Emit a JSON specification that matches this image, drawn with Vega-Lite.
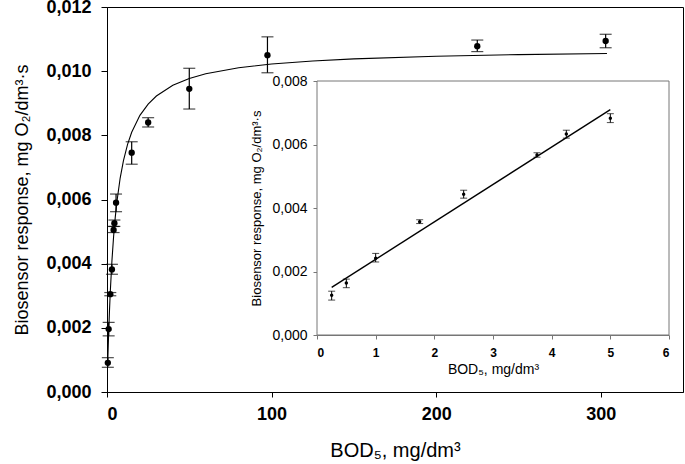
{
  "$schema": "https://vega.github.io/schema/vega-lite/v6.json",
  "width": 576,
  "height": 385,
  "autosize": {"type": "none"},
  "padding": {"left": 107, "top": 7, "right": 2, "bottom": 72},
  "background": "white",
  "config": {
    "view": {"stroke": "black", "strokeWidth": 1},
    "axis": {"grid": false, "domainColor": "black", "tickColor": "black", "labelColor": "black", "titleColor": "black", "labelFont": "Liberation Sans", "titleFont": "Liberation Sans"}
  },
  "datasets": {
    "main": [
      {"x": 0.5, "y": 0.00091, "lo": 0.00077, "hi": 0.00107},
      {"x": 1, "y": 0.00196, "lo": 0.00175, "hi": 0.00217},
      {"x": 2, "y": 0.00305, "lo": 0.003, "hi": 0.0031},
      {"x": 3, "y": 0.00382, "lo": 0.00367, "hi": 0.00398},
      {"x": 4, "y": 0.00505, "lo": 0.00497, "hi": 0.00516},
      {"x": 4.5, "y": 0.00526, "lo": 0.00516, "hi": 0.00536},
      {"x": 5.5, "y": 0.0059, "lo": 0.00562, "hi": 0.00617},
      {"x": 15, "y": 0.00746, "lo": 0.0071, "hi": 0.0078},
      {"x": 25, "y": 0.0084, "lo": 0.00826, "hi": 0.00855},
      {"x": 50, "y": 0.00945, "lo": 0.00882, "hi": 0.01009},
      {"x": 97.5, "y": 0.0105, "lo": 0.00995, "hi": 0.01107},
      {"x": 225, "y": 0.01078, "lo": 0.01061, "hi": 0.01097},
      {"x": 303, "y": 0.01094, "lo": 0.01073, "hi": 0.01115}
    ],
    "curve": [
      {"x": 0.5, "y": 0.001},
      {"x": 0.75, "y": 0.001433},
      {"x": 1, "y": 0.001829},
      {"x": 1.5, "y": 0.002528},
      {"x": 2, "y": 0.003125},
      {"x": 3, "y": 0.004092},
      {"x": 4, "y": 0.00484},
      {"x": 5, "y": 0.005436},
      {"x": 6, "y": 0.005923},
      {"x": 8, "y": 0.006669},
      {"x": 10, "y": 0.007214},
      {"x": 12.5, "y": 0.007719},
      {"x": 15, "y": 0.008097},
      {"x": 20, "y": 0.008624},
      {"x": 25, "y": 0.008975},
      {"x": 30, "y": 0.009225},
      {"x": 40, "y": 0.009559},
      {"x": 50, "y": 0.00977},
      {"x": 60, "y": 0.009917},
      {"x": 80, "y": 0.010106},
      {"x": 100, "y": 0.010223},
      {"x": 125, "y": 0.010319},
      {"x": 150, "y": 0.010384},
      {"x": 200, "y": 0.010466},
      {"x": 250, "y": 0.010516},
      {"x": 303.8, "y": 0.010551}
    ],
    "inset": [
      {"x": 0.25, "y": 0.00125, "lo": 0.0011, "hi": 0.00138},
      {"x": 0.5, "y": 0.00164, "lo": 0.00149, "hi": 0.00176},
      {"x": 1, "y": 0.00242, "lo": 0.0023, "hi": 0.00257},
      {"x": 1.75, "y": 0.00357, "lo": 0.00351, "hi": 0.00363},
      {"x": 2.5, "y": 0.00443, "lo": 0.00431, "hi": 0.00456},
      {"x": 3.75, "y": 0.00567, "lo": 0.0056, "hi": 0.00574},
      {"x": 4.25, "y": 0.00633, "lo": 0.0062, "hi": 0.00645},
      {"x": 5, "y": 0.00683, "lo": 0.00669, "hi": 0.00697}
    ],
    "fit": [
      {"x": 0.25, "y": 0.0015},
      {"x": 5, "y": 0.0071}
    ]
  },
  "layer": [
    {
      "layer": [
        {
          "data": {"name": "curve"},
          "mark": {"type": "line", "color": "black", "strokeWidth": 1.1, "interpolate": "linear"},
          "encoding": {
            "x": {"field": "x", "type": "quantitative", "title": "BOD₅, mg/dm³",
              "scale": {"domain": [0, 350], "nice": false, "zero": false},
              "axis": {"values": [0, 100, 200, 300], "format": "d", "labelFontSize": 18, "labelFontWeight": "bold", "tickSize": 5, "labelPadding": 8, "titleFontSize": 20, "titleFontWeight": "normal", "titlePadding": 17}},
            "y": {"field": "y", "type": "quantitative", "title": "Biosensor response, mg O₂/dm³·s",
              "scale": {"domain": [0, 0.012], "nice": false, "zero": false},
              "axis": {"values": [0, 0.002, 0.004, 0.006, 0.008, 0.01, 0.012], "labelExpr": "replace(format(datum.value, '.3f'), '.', ',')", "labelFontSize": 18, "labelFontWeight": "bold", "tickSize": 6, "labelPadding": 10, "titleFontSize": 18, "titleFontWeight": "normal", "titlePadding": 14}}
          }
        },
        {
          "data": {"name": "main"},
          "mark": {"type": "rule", "color": "black", "strokeWidth": 1.2},
          "encoding": {
            "x": {"field": "x", "type": "quantitative", "title": "BOD₅, mg/dm³"},
            "y": {"field": "lo", "type": "quantitative", "title": "Biosensor response, mg O₂/dm³·s"},
            "y2": {"field": "hi"}
          }
        },
        {
          "data": {"name": "main"},
          "mark": {"type": "tick", "orient": "horizontal", "color": "black", "size": 12, "thickness": 1.2},
          "encoding": {
            "x": {"field": "x", "type": "quantitative", "title": "BOD₅, mg/dm³"},
            "y": {"field": "lo", "type": "quantitative", "title": "Biosensor response, mg O₂/dm³·s"}
          }
        },
        {
          "data": {"name": "main"},
          "mark": {"type": "tick", "orient": "horizontal", "color": "black", "size": 12, "thickness": 1.2},
          "encoding": {
            "x": {"field": "x", "type": "quantitative", "title": "BOD₅, mg/dm³"},
            "y": {"field": "hi", "type": "quantitative", "title": "Biosensor response, mg O₂/dm³·s"}
          }
        },
        {
          "data": {"name": "main"},
          "mark": {"type": "point", "filled": true, "color": "black", "size": 40, "opacity": 1},
          "encoding": {
            "x": {"field": "x", "type": "quantitative", "title": "BOD₅, mg/dm³"},
            "y": {"field": "y", "type": "quantitative", "title": "Biosensor response, mg O₂/dm³·s"}
          }
        }
      ]
    },
    {
      "layer": [
        {
          "data": {"values": [{}]},
          "mark": {"type": "rect", "fill": "white", "stroke": "#777777", "strokeWidth": 1},
          "encoding": {
            "x": {"datum": 0, "type": "quantitative", "title": "BOD₅, mg/dm³",
              "scale": {"domain": [0, 6], "nice": false, "zero": false, "range": [210, 562]},
              "axis": {"orient": "bottom", "offset": -57, "values": [0, 1, 2, 3, 4, 5, 6], "format": "d", "domainColor": "#777777", "tickColor": "#777777", "tickSize": 4, "labelPadding": 8, "labelFontSize": 12, "labelFontWeight": "bold", "titleFontSize": 14, "titleFontWeight": "normal", "titlePadding": 4}},
            "x2": {"datum": 6},
            "y": {"datum": 0, "type": "quantitative", "title": "Biosensor response, mg O₂/dm³·s",
              "scale": {"domain": [0, 0.008], "nice": false, "zero": false, "range": [328, 74]},
              "axis": {"orient": "left", "offset": -210, "values": [0, 0.002, 0.004, 0.006, 0.008], "labelExpr": "replace(format(datum.value, '.3f'), '.', ',')", "domainColor": "#777777", "tickColor": "#777777", "tickSize": 4, "labelPadding": 6, "labelFontSize": 14, "labelFontWeight": "normal", "titleFontSize": 13, "titleFontWeight": "normal", "titlePadding": 8}},
            "y2": {"datum": 0.008}
          }
        },
        {
          "data": {"name": "fit"},
          "mark": {"type": "line", "color": "black", "strokeWidth": 1.4},
          "encoding": {
            "x": {"field": "x", "type": "quantitative", "title": "BOD₅, mg/dm³"},
            "y": {"field": "y", "type": "quantitative", "title": "Biosensor response, mg O₂/dm³·s"}
          }
        },
        {
          "data": {"name": "inset"},
          "mark": {"type": "rule", "color": "black", "strokeWidth": 1},
          "encoding": {
            "x": {"field": "x", "type": "quantitative", "title": "BOD₅, mg/dm³"},
            "y": {"field": "lo", "type": "quantitative", "title": "Biosensor response, mg O₂/dm³·s"},
            "y2": {"field": "hi"}
          }
        },
        {
          "data": {"name": "inset"},
          "mark": {"type": "tick", "orient": "horizontal", "color": "black", "size": 7, "thickness": 1},
          "encoding": {
            "x": {"field": "x", "type": "quantitative", "title": "BOD₅, mg/dm³"},
            "y": {"field": "lo", "type": "quantitative", "title": "Biosensor response, mg O₂/dm³·s"}
          }
        },
        {
          "data": {"name": "inset"},
          "mark": {"type": "tick", "orient": "horizontal", "color": "black", "size": 7, "thickness": 1},
          "encoding": {
            "x": {"field": "x", "type": "quantitative", "title": "BOD₅, mg/dm³"},
            "y": {"field": "hi", "type": "quantitative", "title": "Biosensor response, mg O₂/dm³·s"}
          }
        },
        {
          "data": {"name": "inset"},
          "mark": {"type": "point", "filled": true, "color": "black", "size": 12, "opacity": 1},
          "encoding": {
            "x": {"field": "x", "type": "quantitative", "title": "BOD₅, mg/dm³"},
            "y": {"field": "y", "type": "quantitative", "title": "Biosensor response, mg O₂/dm³·s"}
          }
        }
      ]
    }
  ],
  "resolve": {"scale": {"x": "independent", "y": "independent"}, "axis": {"x": "independent", "y": "independent"}}
}
